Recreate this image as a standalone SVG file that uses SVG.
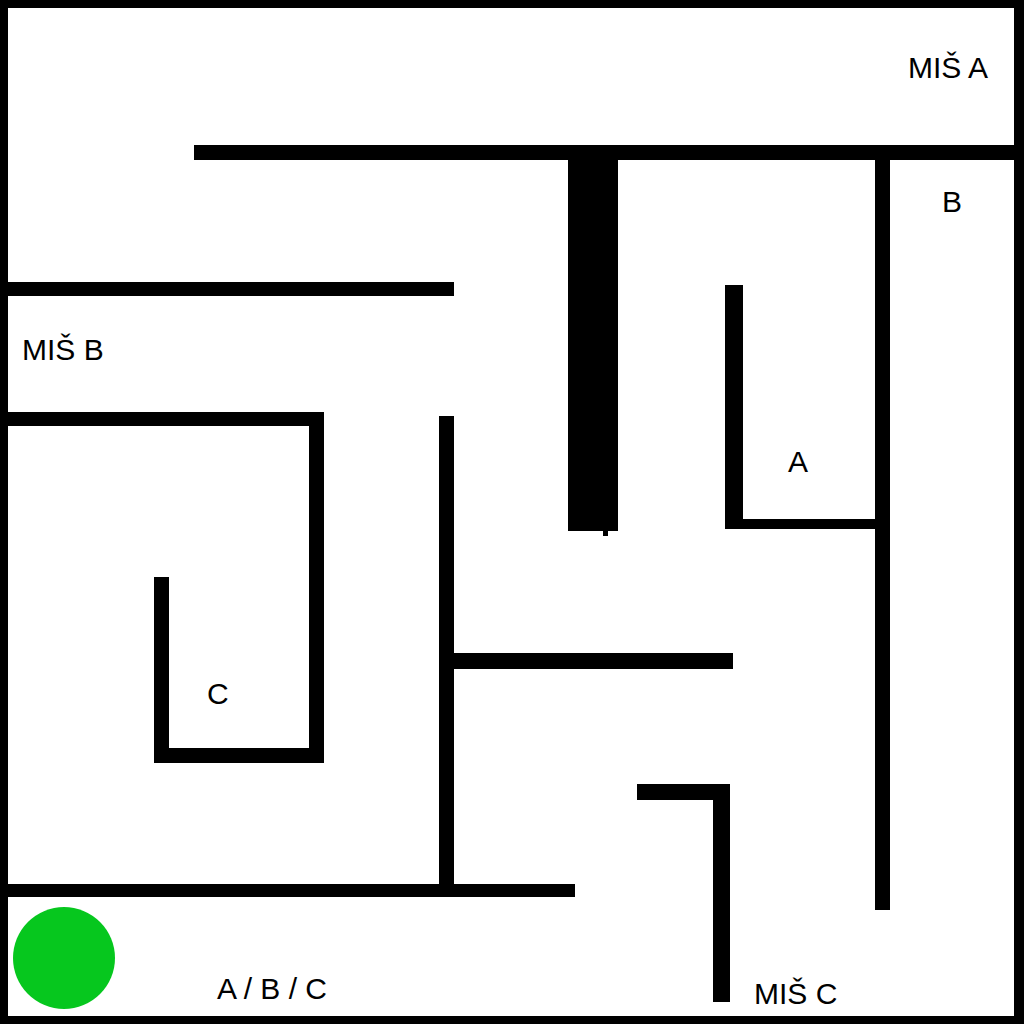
<svg xmlns="http://www.w3.org/2000/svg" width="1024" height="1024" viewBox="0 0 1024 1024">
<style>
.w{fill:#000}
.t{font-family:"Liberation Sans",Arial,sans-serif;font-size:30px;fill:#000}
</style>
<rect x="0" y="0" width="1024" height="1024" fill="#fff"/>
<g id="frame">
<rect class="w" x="0" y="0" width="1024" height="8"/>
<rect class="w" x="0" y="1016" width="1024" height="8"/>
<rect class="w" x="0" y="0" width="8" height="1024"/>
<rect class="w" x="1014" y="0" width="10" height="1024"/>
</g>
<g id="walls">
<rect class="w" x="194" y="145" width="830" height="15"/>
<rect class="w" x="568" y="152" width="50" height="379"/>
<rect class="w" x="603" y="529" width="5" height="7"/>
<rect class="w" x="875" y="152" width="15" height="758"/>
<rect class="w" x="0" y="282" width="454" height="14"/>
<rect class="w" x="0" y="412" width="324" height="14"/>
<rect class="w" x="309" y="412" width="15" height="351"/>
<rect class="w" x="154" y="748" width="170" height="15"/>
<rect class="w" x="154" y="577" width="15" height="186"/>
<rect class="w" x="439" y="416" width="15" height="474"/>
<rect class="w" x="454" y="653" width="279" height="16"/>
<rect class="w" x="0" y="884" width="575" height="13"/>
<rect class="w" x="725" y="285" width="18" height="244"/>
<rect class="w" x="725" y="519" width="152" height="10"/>
<rect class="w" x="637" y="784" width="93" height="16"/>
<rect class="w" x="713" y="784" width="17" height="218"/>
</g>
<g id="start">
<circle cx="64" cy="958" r="51" fill="#06C71E"/>
</g>
<g id="labels">
<text class="t" x="908" y="78">MIŠ A</text>
<text class="t" x="942" y="212">B</text>
<text class="t" x="22" y="360">MIŠ B</text>
<text class="t" x="788" y="472">A</text>
<text class="t" x="207" y="704">C</text>
<text class="t" x="217" y="999">A / B / C</text>
<text class="t" x="754" y="1004">MIŠ C</text>
</g>
</svg>
